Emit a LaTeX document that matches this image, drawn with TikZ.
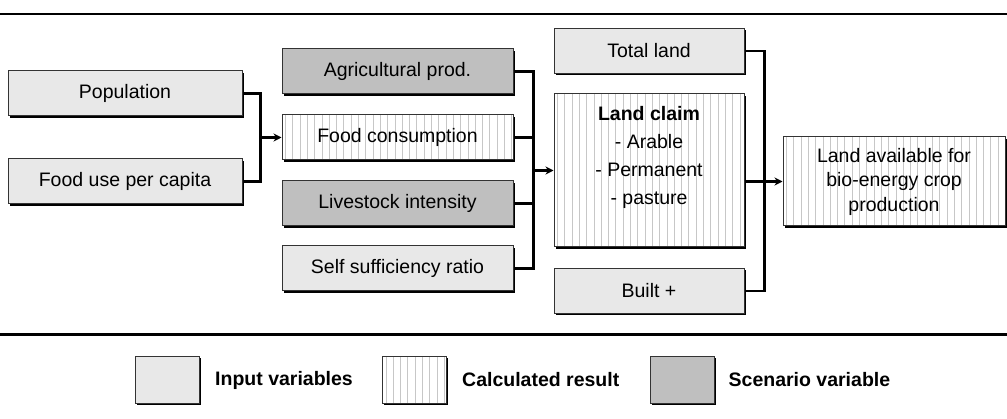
\documentclass[tikz,border=0pt]{standalone}
\usepackage{fontspec}
\setmainfont{Liberation Sans}
\usetikzlibrary{positioning,calc,arrows.meta,shadows}
\tikzset{>=stealth}
\definecolor{ingray}{gray}{0.91}
\definecolor{scengray}{gray}{0.75}
\definecolor{hatchgray}{gray}{0.78}
\tikzset{
  box/.style={draw=black!80, line width=1pt, minimum height=45pt, inner sep=0pt,
    font=\fontsize{19.5}{24.5}\selectfont, align=center,
    drop shadow={shadow xshift=1.6pt, shadow yshift=-1.6pt, fill=black, opacity=1}},
  inbox/.style={box, fill=ingray},
  scenbox/.style={box, fill=scengray},
  calcbox/.style={box, fill=white, path picture={
    \foreach \i in {3.5,10.8,...,230}
      \draw[hatchgray, line width=0.9pt] ([xshift=\i pt]path picture bounding box.south west)
        -- ([xshift=\i pt]path picture bounding box.north west);}},
  bus/.style={line width=2.6pt, line join=miter},
  arr/.style={bus, -{Stealth[length=8pt,width=8pt]}},
  legtxt/.style={inner sep=0pt, font=\fontsize{19.5}{22}\selectfont\bfseries}
}
\begin{document}
\begin{tikzpicture}[x=1pt,y=-1pt]
\useasboundingbox (0,0) rectangle (1007,419);
\draw[line width=1.5pt] (0,14) -- (1007,14);
\draw[line width=3pt] (0,335) -- (1007,335);
% inputs
\node[inbox, minimum width=234pt] (pop) at (125,93.5) {Population};
\node[inbox, minimum width=234pt] (fuse) at (125,181.5) {Food use per capita};
% middle column
\node[scenbox, minimum width=231pt] (agri) at (397.5,71.5) {Agricultural prod.};
\node[calcbox, minimum width=231pt] (fcons) at (397.5,137.5) {Food consumption};
\node[scenbox, minimum width=231pt] (live) at (397.5,203.5) {Livestock intensity};
\node[inbox, minimum width=231pt] (self) at (397.5,268.5) {Self sufficiency ratio};
% land column
\node[inbox, minimum width=190pt] (tot) at (649,51) {Total land};
\node[calcbox, minimum width=190pt, minimum height=153pt] (lc) at (649,170.5) {};
\node[below=9pt of lc.north, align=center, font=\fontsize{19.5}{28}\selectfont] (lctxt)
  {\textbf{Land claim}\\- Arable\\- Permanent\\- pasture};
\node[inbox, minimum width=190pt] (built) at (649,291) {Built +};
\node[calcbox, minimum width=222pt, minimum height=89pt] (la) at (894,181.5)
  {Land available for\\bio-energy crop\\production};
% connectors
\coordinate (b1) at ($(pop.east)+(18,0)$);
\draw[bus] (pop.east) -- (b1) |- (fuse.east);
\draw[arr] (b1 |- fcons.west) -- (fcons.west);
\coordinate (b2) at ($(agri.east)+(20,0)$);
\draw[bus] (agri.east) -- (b2) |- (self.east);
\draw[bus] (fcons.east) -- (b2 |- fcons.east);
\draw[bus] (live.east) -- (b2 |- live.east);
\draw[arr] (b2 |- lc.west) -- (lc.west);
\coordinate (b3) at ($(tot.east)+(20,0)$);
\draw[bus] (tot.east) -- (b3) |- (built.east);
\draw[arr] (lc.east |- la.west) -- (la.west);
% legend
\node[inbox, minimum width=64pt, minimum height=47pt] (leg1) at (167.5,380) {};
\node[legtxt, right=15pt of leg1] (legt1) {Input variables};
\node[calcbox, minimum width=64pt, minimum height=47pt] (leg2) at (414.5,380) {};
\node[legtxt, right=15pt of leg2] (legt2) {Calculated result};
\node[scenbox, minimum width=64pt, minimum height=47pt] (leg3) at (682,380) {};
\node[legtxt, right=14pt of leg3] (legt3) {Scenario variable};
\end{tikzpicture}
\end{document}
